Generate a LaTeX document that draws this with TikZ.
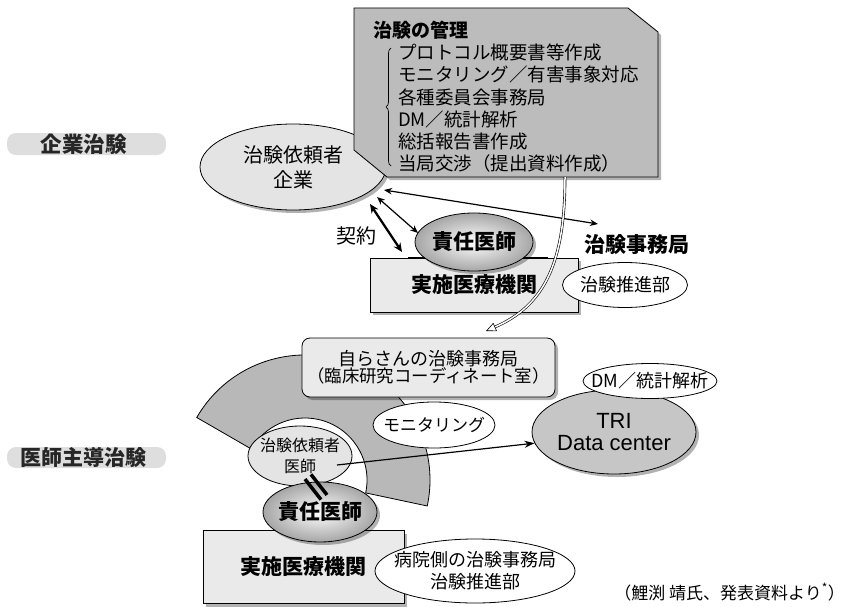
\documentclass[tikz,border=0pt]{standalone}
\usepackage{fontspec}
\setmainfont{Noto Sans CJK JP}
\newfontfamily\latinsans{Liberation Sans}
\usetikzlibrary{shapes.geometric,arrows.meta,shadows,decorations.pathreplacing}
\newcommand\fsz[2]{\fontsize{#1}{#2}\selectfont}
\definecolor{topgray}{RGB}{188,188,188}
\definecolor{sectorgray}{RGB}{184,184,184}
\definecolor{trigray}{RGB}{198,198,198}
\definecolor{lightbox}{RGB}{234,234,234}
\definecolor{ellgray}{RGB}{228,228,228}
\definecolor{bargray}{RGB}{222,222,222}
\begin{document}
\begin{tikzpicture}[x=1pt,y=1pt,
  every node/.style={inner sep=0pt},
  ell/.style={ellipse, draw, line width=0.8pt},
  txt/.style 2 args={label={[align=center,font=#1]center:#2}},
  shad/.style={drop shadow={shadow xshift=3pt, shadow yshift=-3pt, opacity=0.3, fill=black}},
  bar/.style={fill=bargray, rounded corners=9pt},
  boxstyle/.style={draw, line width=0.8pt, fill=lightbox},
  metal/.style={shading=radial, inner color=white, outer color=gray!70},
  dbl/.style={line width=2.3pt, {Stealth[length=9pt,width=8pt]}-{Stealth[length=9pt,width=8pt]}},
  sgl/.style={line width=1.2pt, {Stealth[length=8pt,width=6.5pt]}-{Stealth[length=8pt,width=6.5pt]}}
]
\useasboundingbox (0,0) rectangle (848,-607);

% side labels
\path[bar] (7,-133) rectangle (166,-155);
\node[font=\fsz{21.5}{25}\bfseries, text=black!85] (kigyochiken) at (83.5,-144) {企業治験};
\path[bar] (7,-447) rectangle (166,-468);
\node[font=\fsz{21}{25}\bfseries, text=black!85] (ishichiken) at (83.5,-457.5) {医師主導治験};

% ===== upper part =====
\node[ell, shad, fill=ellgray, minimum width=186pt, minimum height=86pt,
  txt={\fsz{20}{25}}{治験依頼者\\企業}] (irai) at (293,-167) {};
\path[draw, line width=0.8pt, fill=topgray, shad] (354,-8) -- (628,-8) -- (658,-32) -- (658,-177) -- (387,-177) -- (354,-150) -- cycle;
\node[font=\fsz{19}{23}\bfseries, anchor=west] (kanri) at (373,-30) {治験の管理};
\foreach \t/\y [count=\i] in {プロトコル概要書等作成/52, モニタリング／有害事象対応/74.5, 各種委員会事務局/97, DM／統計解析/119.5, 総括報告書作成/142, 当局交渉（提出資料作成）/163.5}
  \node[anchor=west, font=\fsz{18.5}{22}] (item\i) at (398,-\y) {\t};
\draw[line width=0.7pt, decorate, decoration={brace, amplitude=5pt}] (391,-166) -- (391,-48);

\node[boxstyle, shad, minimum width=208pt, minimum height=54pt, font=\fsz{21}{25}\bfseries] (jisshi1) at (474,-285) {実施医療機関};
\draw[line width=2pt] (408,-258) -- (548,-258);
\node[ell, metal, shad, minimum width=118pt, minimum height=58pt,
  txt={\fsz{21}{25}\bfseries}{責任医師}] (sekinin1) at (474,-242) {};
\node[font=\fsz{21}{25}\bfseries] (jimu) at (637,-245) {治験事務局};
\node[ell, fill=white, minimum width=125pt, minimum height=45pt,
  txt={\fsz{18}{22}}{治験推進部}] (suishin1) at (625,-285) {};
\node[font=\fsz{20}{24}] (keiyaku) at (356,-236) {契約};

\coordinate (a1s) at (370,-204);
\coordinate (a1e) at (402,-252);
\coordinate (a2s) at (377,-197);
\coordinate (a2e) at (418,-233);
\coordinate (a3s) at (384,-190);
\coordinate (a3e) at (598,-224);
\draw[dbl] (a1s) -- (a1e);
\draw[sgl] (a2s) -- (a2e);
\draw[sgl] (a3s) -- (a3e);

\coordinate (dstart) at (565,-177);
\coordinate (dend) at (486,-331);
\draw[line width=0.6pt, double=white, double distance=1.5pt, -{Triangle[open, length=10pt, width=9pt]}] (dstart) .. controls (565,-262) and (545,-305) .. (dend);

% ===== lower part =====
\begin{scope}[shift={(305,-480)}]
  \path[draw, line width=0.8pt, fill=sectorgray] (150:125pt) arc[start angle=150, end angle=-12, radius=125pt] -- (-12:62pt) arc[start angle=-12, end angle=150, radius=62pt] -- cycle;
\end{scope}

\node[draw, line width=0.8pt, rounded corners=8pt, fill=lightbox, shad, minimum width=253pt, minimum height=59pt, align=center] (jimu2) at (428.5,-367.5) {{\fsz{18}{23}自らさんの治験事務局}\\{\fsz{17.4}{23}（臨床研究コーディネート室）}};
\node[ell, fill=white, minimum width=122pt, minimum height=46pt,
  txt={\fsz{17}{20}}{モニタリング}] (moni) at (434,-425) {};
\node[ell, fill=ellgray, minimum width=104pt, minimum height=60pt,
  txt={\fsz{16}{21}}{治験依頼者\\医師}] (irai2) at (300,-456) {};

\node[boxstyle, shad, minimum width=201pt, minimum height=73pt, font=\fsz{21}{25}\bfseries] (jisshi2) at (303.5,-567) {実施医療機関};
\node[ell, metal, shad, minimum width=114pt, minimum height=60pt,
  txt={\fsz{21}{25}\bfseries}{責任医師}] (sekinin2) at (320,-512) {};

\begin{scope}[shift={(316,-487)}, rotate=-52]
  \draw[line width=3.5pt] (-13,3.8) -- (13,3.8);
  \draw[line width=3.5pt] (-13,-3.8) -- (13,-3.8);
\end{scope}

\node[ell, fill=white, minimum width=200pt, minimum height=64pt,
  txt={\fsz{18}{22}}{病院側の治験事務局\\治験推進部}] (byoin) at (475,-571) {};

\node[ell, fill=trigray, shad, minimum width=164pt, minimum height=84pt,
  txt={\latinsans\fsz{22}{22}}{TRI\\Data center}] (tri) at (614,-432) {};
\node[ell, fill=white, minimum width=134pt, minimum height=35pt,
  txt={\fsz{18}{22}}{DM／統計解析}] (dm) at (650,-381) {};

\coordinate (ishipt) at (337,-465);
\draw[line width=1.2pt, -{Stealth[length=10pt,width=7pt]}] (ishipt) -- (tri.188);

\node[anchor=east, font=\fsz{17}{20}] (cite) at (845,-592) {（鯉渕 靖氏、発表資料より\textsuperscript{*}）};
\end{tikzpicture}
\end{document}
